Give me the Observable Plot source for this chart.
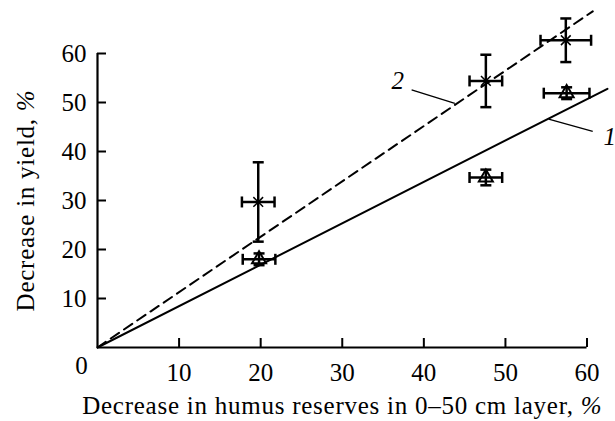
<!DOCTYPE html>
<html>
<head>
<meta charset="utf-8">
<script src="https://cdn.jsdelivr.net/npm/d3@7"></script>
<script src="https://cdn.jsdelivr.net/npm/@observablehq/plot@0.6"></script>
<style>
  html, body { margin: 0; padding: 0; background: white; }
  #chart svg { display: block; }
</style>
</head>
<body>
<div id="chart"></div>
<script>
// ---- data ----
const xTicks = [10, 20, 30, 40, 50, 60];
const yTicks = [10, 20, 30, 40, 50, 60];
const originLabel = [0];

// series 1 (triangles)
const triX = [19.8, 47.6, 57.5];
const triY = [18.0, 34.7, 51.9];
const triXErr = [2.0, 2.0, 2.8];
const triYErr = [1.2, 1.6, 1.2];

// series 2 (crosses)
const crsX = [19.7, 47.6, 57.4];
const crsY = [29.7, 54.4, 62.7];
const crsXErr = [2.0, 2.0, 3.1];
const crsYErr = [8.1, 5.35, 4.45];

// regression lines (1 solid, 2 dashed)
const line1X = [0, 62.5];
const line1Y = [0, 52.8];
const line2X = [0, 60.7];
const line2Y = [0, 68.6];

// curve labels and leader lines
const curveLabels = ["1", "2"];
const labelX = [62.8, 36.8];
const labelY = [42.9, 54.4];
const leaderX1 = [55.3, 38.5];
const leaderY1 = [46.6, 52.6];
const leaderX2 = [60.7, 43.8];
const leaderY2 = [44.1, 49.8];

const xLabel = "Decrease in humus reserves in 0\u201350 cm layer, %";
const yLabel = "Decrease in yield, %";

// ---- build tables ----
const tri = triX.map((x, i) => ({x, y: triY[i], xe: triXErr[i], ye: triYErr[i]}));
const crs = crsX.map((x, i) => ({x, y: crsY[i], xe: crsXErr[i], ye: crsYErr[i]}));
const pts = [...tri, ...crs];
const line1 = line1X.map((x, i) => ({x, y: line1Y[i]}));
const line2 = line2X.map((x, i) => ({x, y: line2Y[i]}));
const labels = curveLabels.map((t, i) => ({t, x: labelX[i], y: labelY[i]}));
const leaders = curveLabels.map((t, i) => ({x1: leaderX1[i], y1: leaderY1[i], x2: leaderX2[i], y2: leaderY2[i]}));

const hCaps = pts.flatMap(d => [{x: d.x - d.xe, y: d.y}, {x: d.x + d.xe, y: d.y}]);
const vCaps = pts.flatMap(d => [{x: d.x, y: d.y - d.ye}, {x: d.x, y: d.y + d.ye}]);

// custom cap symbols
const vbar = {draw(ctx, size) { const h = Math.sqrt(size / Math.PI); ctx.moveTo(0, -h); ctx.lineTo(0, h); }};
const hbar = {draw(ctx, size) { const h = Math.sqrt(size / Math.PI); ctx.moveTo(-h, 0); ctx.lineTo(h, 0); }};

const font = "'Liberation Serif', 'Times New Roman', serif";
const fs = 25;

const chart = Plot.plot({
  width: 615,
  height: 421,
  marginLeft: 97,
  marginRight: 4,
  marginTop: 4,
  marginBottom: 74,
  x: {domain: [0, 63]},
  y: {domain: [0, 70]},
  style: {fontFamily: font, fontSize: fs + "px", color: "black", background: "white"},
  marks: [
    Plot.axisX(xTicks, {tickSize: -9, tickPadding: 25, strokeWidth: 2, fontSize: fs, label: null}),
    Plot.axisY(yTicks, {tickSize: -9, tickPadding: 20, strokeWidth: 2, fontSize: fs, label: null}),
    Plot.ruleY([0], {x1: 0, x2: d3.max(xTicks), strokeWidth: 2.2}),
    Plot.ruleX([0], {y1: 0, y2: d3.max(yTicks), strokeWidth: 2.2}),
    Plot.text(originLabel, {x: d => d, frameAnchor: "bottom", text: d => String(d), dx: -16, dy: 26, fontSize: fs}),
    // axis titles
    Plot.text([xLabel], {x: d3.mean(d3.extent([0, ...xTicks])), frameAnchor: "bottom", textAnchor: "middle", lineAnchor: "bottom", dy: 66, text: d => d, fontSize: fs}),
    Plot.text([yLabel], {y: d3.mean(d3.extent([0, ...yTicks])), frameAnchor: "left", textAnchor: "middle", lineAnchor: "bottom", dx: -64, rotate: -90, text: d => d, fontSize: fs}),
    // lines
    Plot.line(line1, {x: "x", y: "y", stroke: "black", strokeWidth: 2}),
    Plot.line(line2, {x: "x", y: "y", stroke: "black", strokeWidth: 2, strokeDasharray: "10,6"}),
    // leaders and labels
    Plot.link(leaders, {x1: "x1", y1: "y1", x2: "x2", y2: "y2", stroke: "black", strokeWidth: 1.3}),
    Plot.text(labels, {x: "x", y: "y", text: "t", fontStyle: "italic", fontSize: fs}),
    // error bars
    Plot.ruleY(pts, {y: "y", x1: d => d.x - d.xe, x2: d => d.x + d.xe, stroke: "black", strokeWidth: 2.5}),
    Plot.ruleX(pts, {x: "x", y1: d => d.y - d.ye, y2: d => d.y + d.ye, stroke: "black", strokeWidth: 2.5}),
    Plot.dot(hCaps, {x: "x", y: "y", symbol: vbar, r: 5.5, fill: "none", stroke: "black", strokeWidth: 2.5}),
    Plot.dot(vCaps, {x: "x", y: "y", symbol: hbar, r: 5.5, fill: "none", stroke: "black", strokeWidth: 2.5}),
    // markers
    Plot.dot(tri, {x: "x", y: "y", symbol: "triangle", r: 5.2, fill: "none", stroke: "black", strokeWidth: 2}),
    Plot.dot(crs, {x: "x", y: "y", symbol: "times", r: 4.5, fill: "none", stroke: "black", strokeWidth: 1.5})
  ]
});

// italicize the % sign in axis titles
d3.select(chart).selectAll("text").each(function() {
  const t = this.textContent;
  if (t === xLabel || t === yLabel) {
    const sel = d3.select(this);
    sel.attr("letter-spacing", "0.75px");
    sel.text(null);
    sel.append("tspan").text(t.slice(0, -1));
    sel.append("tspan").attr("font-style", "italic").text("%");
  }
});

document.getElementById("chart").append(chart);
</script>
</body>
</html>
